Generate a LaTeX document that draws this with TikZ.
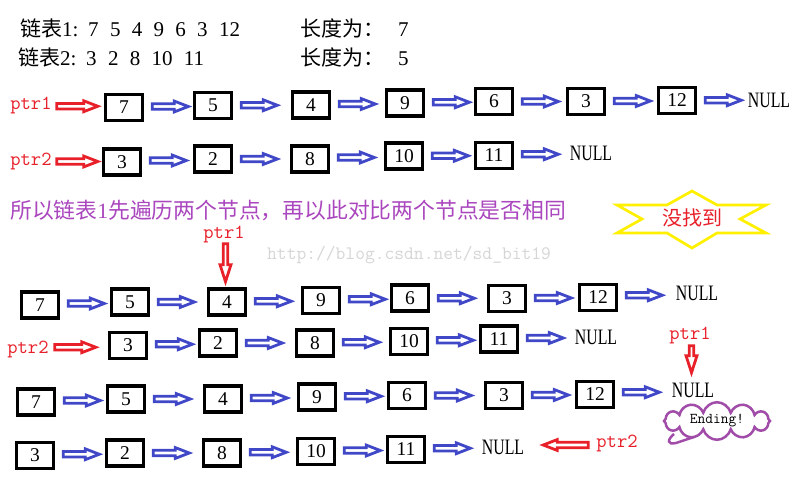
\documentclass[tikz,border=0pt]{standalone}
\usepackage{fontspec}
\setmainfont{Liberation Serif}
\newfontfamily\cjk{Noto Sans CJK SC}
\newfontfamily\narrowserif[FakeStretch=0.72]{Liberation Serif}
\usetikzlibrary{calc,shapes.symbols}
\definecolor{arrblue}{RGB}{64,72,200}
\definecolor{ptrred}{RGB}{232,32,42}
\definecolor{purp}{RGB}{170,70,190}
\definecolor{cloudp}{RGB}{160,76,168}
\definecolor{staryel}{RGB}{255,240,0}
\definecolor{wmgray}{RGB}{214,214,214}
\newcommand\dsp{\hspace{11.3pt}}
\tikzset{
  agap/.store in=\agap, alen/.store in=\alen, agap=8pt, alen=37pt,
  hollow/.style={line width=2.8pt, line join=miter, miter limit=20},
  rarrow/.style={hollow, to path={let \p1=(\tikztostart), \p2=(\tikztotarget),
      \n1={(\y1+\y2)/2}, \n2={\x1+\agap}, \n3={\x1+\agap+\alen-1pt} in
      (\n2,\n1+2.7pt) -- (\n3-14pt,\n1+2.7pt) -- (\n3-14pt,\n1+5.4pt) -- (\n3,\n1)
      -- (\n3-14pt,\n1-5.4pt) -- (\n3-14pt,\n1-2.7pt) -- (\n2,\n1-2.7pt) -- cycle}},
  larrow/.style={hollow, to path={let \p1=(\tikztostart), \p2=(\tikztotarget),
      \n1={(\y1+\y2)/2}, \n2={\x1-\agap}, \n3={\x1-\agap-\alen+1pt} in
      (\n2,\n1+2.7pt) -- (\n3+14pt,\n1+2.7pt) -- (\n3+14pt,\n1+5.4pt) -- (\n3,\n1)
      -- (\n3+14pt,\n1-5.4pt) -- (\n3+14pt,\n1-2.7pt) -- (\n2,\n1-2.7pt) -- cycle}},
  darrow/.style={hollow, to path={let \p1=(\tikztostart), \p2=(\tikztotarget),
      \n1={(\x1+\x2)/2}, \n2={\y1-\agap}, \n3={\y1-\agap-\alen+1pt} in
      (\n1-2.3pt,\n2) -- (\n1-2.3pt,\n3+17pt) -- (\n1-5.5pt,\n3+17pt) -- (\n1,\n3)
      -- (\n1+5.5pt,\n3+17pt) -- (\n1+2.3pt,\n3+17pt) -- (\n1+2.3pt,\n2) -- cycle}},
  barrow/.style={rarrow, draw=arrblue},
  parrow/.style={draw=ptrred},
  box/.style={draw, line width=3.6pt, minimum width=37pt, minimum height=26pt,
      inner sep=0pt, fill=white, font=\fontsize{19.5}{20}\selectfont},
  nulllab/.style={inner sep=0pt, font=\narrowserif\fontsize{22}{22}\selectfont},
  ptrlab/.style={inner sep=0pt, text=ptrred, font=\ttfamily\fontsize{20}{20}\selectfont},
  toptext/.style={anchor=west, inner sep=0pt, font=\fontsize{21}{21}\selectfont},
}
\begin{document}
\begin{tikzpicture}[x=1pt,y=-1pt]
\useasboundingbox (0,0) rectangle (805,489);
\fill[white] (0,0) rectangle (805,489);

% header
\node[toptext] (l1) at (20,28) {{\cjk 链表}1:\hspace{9.7pt}7\dsp 5\dsp 4\dsp 9\dsp 6\dsp 3\dsp 12};
\node[toptext] (l2) at (18,57) {{\cjk 链表}2:\hspace{9.7pt}3\dsp 2\dsp 8\dsp 10\dsp 11};
\node[toptext] (len1) at (300,28) {{\cjk 长度为：}\hspace{14pt}7};
\node[toptext] (len2) at (300,57) {{\cjk 长度为：}\hspace{14pt}5};

% row 1
\node[ptrlab] (p1) at (31,105) {ptr1};
\node[box] (a1) at (124,107.5) {7};
\node[box] (a2) at (213,105.5) {5};
\node[box] (a3) at (311,105) {4};
\node[box] (a4) at (405,103) {9};
\node[box] (a5) at (494,101.5) {6};
\node[box] (a6) at (586,101.5) {3};
\node[box] (a7) at (677,100.5) {12};
\node[nulllab] (an) at (769,100) {NULL};
\draw[rarrow,parrow,agap=5pt,alen=42pt] (p1.east) to (a1.west);
\draw[barrow] (a1.east) to (a2.west);
\draw[barrow] (a2.east) to (a3.west);
\draw[barrow] (a3.east) to (a4.west);
\draw[barrow] (a4.east) to (a5.west);
\draw[barrow] (a5.east) to (a6.west);
\draw[barrow] (a6.east) to (a7.west);
\draw[barrow] (a7.east) to (an.west);

% row 2
\node[ptrlab] (p2) at (31,161) {ptr2};
\node[box] (b1) at (122,162) {3};
\node[box] (b2) at (213,159) {2};
\node[box] (b3) at (310,159) {8};
\node[box] (b4) at (404,156) {10};
\node[box] (b5) at (494,155.5) {11};
\node[nulllab] (bn) at (591,153) {NULL};
\draw[rarrow,parrow,agap=5pt,alen=42pt] (p2.east) to (b1.west);
\draw[barrow] (b1.east) to (b2.west);
\draw[barrow] (b2.east) to (b3.west);
\draw[barrow] (b3.east) to (b4.west);
\draw[barrow] (b4.east) to (b5.west);
\draw[barrow] (b5.east) to (bn.west);

% explanation
\node[anchor=west, inner sep=0pt, text=purp, font=\fontsize{21.8}{22}\selectfont] (desc) at (10,210)
  {{\cjk 所以链表}1{\cjk 先遍历两个节点，再以此对比两个节点是否相同}};

% star
\draw[staryel, line width=2.7pt, line join=miter] (617,205) -- (667,205) -- (692,191) -- (717,205)
  -- (766,205) -- (740,219) -- (766,233) -- (717,233) -- (692,248) -- (667,233) -- (617,233)
  -- (642,219) -- cycle;
\node[text=ptrred, inner sep=0pt, font=\cjk\fontsize{20}{20}\selectfont] (nf) at (692,218) {没找到};

% watermark
\node[anchor=west, inner sep=0pt, text=wmgray, font=\ttfamily\fontsize{19}{19}\selectfont] (wm) at (267,255) {http://blog.csdn.net/sd\_bit19};

% row 3
\node[ptrlab] (p3) at (224,234) {ptr1};
\node[box] (c1) at (40,305) {7};
\node[box] (c2) at (130,302) {5};
\node[box] (c3) at (227,302) {4};
\node[box] (c4) at (321,300.5) {9};
\node[box] (c5) at (410,298) {6};
\node[box] (c6) at (507,298.5) {3};
\node[box] (c7) at (598,297.5) {12};
\node[nulllab] (cn) at (697,293) {NULL};
\draw[darrow,parrow,agap=1pt,alen=39pt] (p3.south) to (c3.north);
\draw[barrow] (c1.east) to (c2.west);
\draw[barrow] (c2.east) to (c3.west);
\draw[barrow] (c3.east) to (c4.west);
\draw[barrow] (c4.east) to (c5.west);
\draw[barrow] (c5.east) to (c6.west);
\draw[barrow] (c6.east) to (c7.west);
\draw[barrow] (c7.east) to (cn.west);

% row 4
\node[ptrlab] (p4) at (28,349) {ptr2};
\node[box] (d1) at (128,345.5) {3};
\node[box] (d2) at (218,343) {2};
\node[box] (d3) at (315,343) {8};
\node[box] (d4) at (409,341.5) {10};
\node[box] (d5) at (499,339) {11};
\node[nulllab] (dn) at (596,337) {NULL};
\draw[rarrow,parrow,agap=6pt,alen=42pt] (p4.east) to (d1.west);
\draw[barrow] (d1.east) to (d2.west);
\draw[barrow] (d2.east) to (d3.west);
\draw[barrow] (d3.east) to (d4.west);
\draw[barrow] (d4.east) to (d5.west);
\draw[barrow] (d5.east) to (dn.west);

% row 5
\node[ptrlab] (p5) at (690,335) {ptr1};
\node[box] (e1) at (36,402) {7};
\node[box] (e2) at (126,399) {5};
\node[box] (e3) at (223,399) {4};
\node[box] (e4) at (317,397) {9};
\node[box] (e5) at (407,395.5) {6};
\node[box] (e6) at (504,395.5) {3};
\node[box] (e7) at (595,394.5) {12};
\node[nulllab] (en) at (693,390) {NULL};
\draw[darrow,parrow,agap=2pt,alen=28pt] (p5.south) to (en.north);
\draw[barrow] (e1.east) to (e2.west);
\draw[barrow] (e2.east) to (e3.west);
\draw[barrow] (e3.east) to (e4.west);
\draw[barrow] (e4.east) to (e5.west);
\draw[barrow] (e5.east) to (e6.west);
\draw[barrow] (e6.east) to (e7.west);
\draw[barrow] (e7.east) to (en.west);

% cloud
\node[cloud, draw=cloudp, line width=2.5pt, cloud puffs=12, aspect=3.3, minimum width=106pt,
  minimum height=32pt, inner sep=0pt, font=\ttfamily\fontsize{15}{15}\selectfont] (cl) at (717,421) {Ending!};
\draw[cloudp, line width=2.5pt] (674,434) .. controls (667,440) and (667,445) .. (676,443) -- (694,437);

% row 6
\node[box] (f1) at (35,455.5) {3};
\node[box] (f2) at (125,453) {2};
\node[box] (f3) at (222,453) {8};
\node[box] (f4) at (316,451.5) {10};
\node[box] (f5) at (406,449.5) {11};
\node[nulllab] (fn) at (503,447) {NULL};
\node[ptrlab] (p6) at (617,443) {ptr2};
\draw[barrow] (f1.east) to (f2.west);
\draw[barrow] (f2.east) to (f3.west);
\draw[barrow] (f3.east) to (f4.west);
\draw[barrow] (f4.east) to (f5.west);
\draw[barrow] (f5.east) to (fn.west);
\draw[larrow,parrow,agap=8pt,alen=46pt] (p6.west) to (fn.east);
\end{tikzpicture}
\end{document}
